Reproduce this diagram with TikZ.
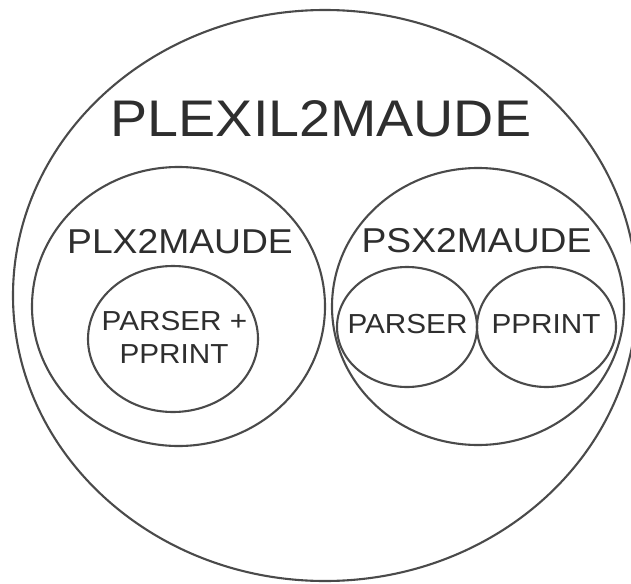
\documentclass[tikz,border=0pt]{standalone}
\usepackage{fontspec}
\usetikzlibrary{shapes.geometric}
\newfontfamily\labfont[FakeStretch=1.08]{Liberation Sans}
\definecolor{ringgray}{HTML}{4A4A4A}
\definecolor{textgray}{HTML}{2E2E2E}
\tikzset{
  ring/.style={draw=ringgray, line width=2.1pt, ellipse, inner sep=0pt},
  lbl/.style={text=textgray, anchor=base, inner sep=0pt, align=center},
}
\newcommand{\fs}[1]{\labfont\fontsize{#1}{#1}\selectfont}
\begin{document}
\begin{tikzpicture}[x=1pt, y=-1pt]
  \useasboundingbox (0,0) rectangle (631,583);
  \clip (0,0) rectangle (631,583);

  % outer module
  \node[ring, minimum width=624pt, minimum height=571pt] (plexil) at (325,295.5) {};
  \node[lbl, font=\fs{51.5}] (plexiltxt) at (321,136) {PLEXIL2MAUDE};

  % left component
  \node[ring, minimum width=293pt, minimum height=279pt] (plx) at (178.5,306.5) {};
  \node[lbl, font=\fs{34.5}] (plxtxt) at (180,253) {PLX2MAUDE};
  \node[ring, minimum width=170pt, minimum height=146pt] (plxpp) at (173,339) {};
  \node[lbl, font=\fs{27.5}] (plxpptxt1) at (174.5,330) {PARSER +};
  \node[lbl, font=\fs{27.5}] (plxpptxt2) at (174,363) {PPRINT};

  % right component
  \node[ring, minimum width=292pt, minimum height=277pt] (psx) at (478,306.5) {};
  \node[lbl, font=\fs{34.5}] (psxtxt) at (476.5,252) {PSX2MAUDE};
  \node[ring, minimum width=140pt, minimum height=120pt] (parser) at (407,327) {};
  \node[lbl, font=\fs{27.5}] (parsertxt) at (407.5,333) {PARSER};
  \node[ring, minimum width=139pt, minimum height=120pt] (pprint) at (546.5,327) {};
  \node[lbl, font=\fs{27.5}] (pprinttxt) at (546,333) {PPRINT};
\end{tikzpicture}
\end{document}
